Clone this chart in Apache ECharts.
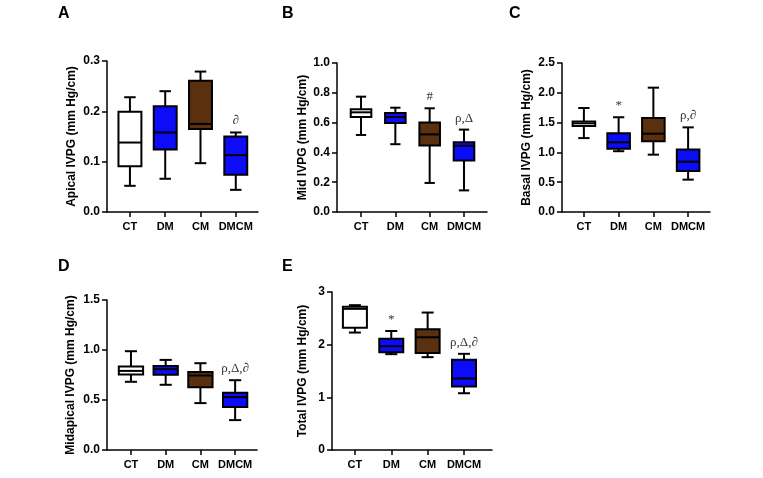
<!DOCTYPE html>
<html>
<head>
<meta charset="utf-8">
<script src="https://cdn.jsdelivr.net/npm/echarts@6/dist/echarts.min.js"></script>
<style>
  html, body { margin: 0; padding: 0; background: #fff; }
  #chart { width: 763px; height: 478px; }
</style>
</head>
<body>
<div id="chart"></div>
<script>
const groups = ['CT', 'DM', 'CM', 'DMCM']
const groupColors = ['#ffffff', '#0c0cf8', '#5a300f', '#0c0cf8']

// [min, q1, median, q3, max] per group
const apical = [
  [0.052, 0.091, 0.138, 0.199, 0.228],
  [0.066, 0.124, 0.158, 0.210, 0.240],
  [0.097, 0.165, 0.175, 0.261, 0.279],
  [0.044, 0.074, 0.113, 0.150, 0.158]
]
const mid = [
  [0.517, 0.638, 0.669, 0.689, 0.774],
  [0.455, 0.597, 0.638, 0.664, 0.700],
  [0.195, 0.447, 0.521, 0.600, 0.696],
  [0.145, 0.345, 0.445, 0.468, 0.553]
]
const basal = [
  [1.24, 1.443, 1.488, 1.52, 1.745],
  [1.02, 1.06, 1.17, 1.32, 1.59],
  [0.962, 1.186, 1.314, 1.577, 2.086],
  [0.543, 0.688, 0.845, 1.05, 1.42]
]
const midapical = [
  [0.682, 0.755, 0.791, 0.835, 0.988],
  [0.652, 0.752, 0.808, 0.841, 0.901],
  [0.469, 0.628, 0.745, 0.781, 0.868],
  [0.299, 0.429, 0.529, 0.572, 0.698]
]
const total = [
  [2.23, 2.32, 2.68, 2.72, 2.75],
  [1.82, 1.855, 1.97, 2.11, 2.26],
  [1.763, 1.84, 2.14, 2.295, 2.61],
  [1.078, 1.205, 1.357, 1.712, 1.826]
]

// significance marks above each box
const apicalMarks = ['', '', '', '∂']
const midMarks = ['', '', '#', 'ρ,Δ']
const basalMarks = ['', '*', '', 'ρ,∂']
const midapicalMarks = ['', '', '', 'ρ,Δ,∂']
const totalMarks = ['', '*', '', 'ρ,Δ,∂']

// y axis ticks
const apicalTicks = { max: 0.3, interval: 0.1, digits: 1 }
const midTicks = { max: 1.0, interval: 0.2, digits: 1 }
const basalTicks = { max: 2.5, interval: 0.5, digits: 1 }
const midapicalTicks = { max: 1.5, interval: 0.5, digits: 1 }
const totalTicks = { max: 3, interval: 1, digits: 0 }

const panels = [
  { letter: 'A', name: 'Apical IVPG (mm Hg/cm)', stats: apical, marks: apicalMarks, ticks: apicalTicks,
    grid: { left: 107, top: 61, width: 151, height: 151 }, xmin: -0.65, xmax: 3.63, box: 0.65, gap: 29, lx: 64, ly: 15 },
  { letter: 'B', name: 'Mid IVPG (mm Hg/cm)', stats: mid, marks: midMarks, ticks: midTicks,
    grid: { left: 337, top: 63, width: 150, height: 149 }, xmin: -0.70, xmax: 3.67, box: 0.6, gap: 28, lx: 288, ly: 15 },
  { letter: 'C', name: 'Basal IVPG (mm Hg/cm)', stats: basal, marks: basalMarks, ticks: basalTicks,
    grid: { left: 562, top: 63, width: 148, height: 149 }, xmin: -0.63, xmax: 3.63, box: 0.65, gap: 29, lx: 515, ly: 15 },
  { letter: 'D', name: 'Midapical IVPG (mm Hg/cm)', stats: midapical, marks: midapicalMarks, ticks: midapicalTicks,
    grid: { left: 107, top: 300, width: 150, height: 150 }, xmin: -0.69, xmax: 3.63, box: 0.7, gap: 30, lx: 64, ly: 268 },
  { letter: 'E', name: 'Total IVPG (mm Hg/cm)', stats: total, marks: totalMarks, ticks: totalTicks,
    grid: { left: 332, top: 292, width: 160, height: 158 }, xmin: -0.63, xmax: 3.77, box: 0.66, gap: 23, lx: 288, ly: 268 }
]

const axisLineStyle = { color: '#000', width: 1.5 }
const boldText = { color: '#000', fontWeight: 'bold', fontFamily: 'Liberation Sans, Arial, sans-serif' }

function makeRender(marks, boxFrac) {
  return function(params, api) {
    const i = api.value(0)
    const lo = api.coord([i, api.value(1)])
    const q1 = api.coord([i, api.value(2)])
    const md = api.coord([i, api.value(3)])
    const q3 = api.coord([i, api.value(4)])
    const hi = api.coord([i, api.value(5)])
    const hw = api.size([1, 0])[0] * boxFrac / 2
    const cw = hw * 0.5
    const cx = lo[0]
    const ln = { stroke: '#000', lineWidth: 2 }
    const children = [
      { type: 'line', shape: { x1: cx, y1: hi[1], x2: cx, y2: q3[1] }, style: ln },
      { type: 'line', shape: { x1: cx, y1: q1[1], x2: cx, y2: lo[1] }, style: ln },
      { type: 'line', shape: { x1: cx - cw, y1: hi[1], x2: cx + cw, y2: hi[1] }, style: ln },
      { type: 'line', shape: { x1: cx - cw, y1: lo[1], x2: cx + cw, y2: lo[1] }, style: ln },
      { type: 'rect', shape: { x: cx - hw, y: q3[1], width: hw * 2, height: q1[1] - q3[1] },
        style: { fill: groupColors[i], stroke: '#000', lineWidth: 2 } },
      { type: 'line', shape: { x1: cx - hw, y1: md[1], x2: cx + hw, y2: md[1] }, style: ln }
    ]
    if (marks[params.dataIndex]) {
      children.push({
        type: 'text',
        style: {
          x: cx, y: hi[1] - 5, text: marks[params.dataIndex],
          textAlign: 'center', textVerticalAlign: 'bottom',
          fill: '#333', font: '13px "Liberation Serif", "DejaVu Serif", serif'
        }
      })
    }
    return { type: 'group', children: children }
  }
}

const option = {
  animation: false,
  backgroundColor: '#fff',
  grid: [],
  xAxis: [],
  yAxis: [],
  series: [],
  graphic: []
}

panels.forEach(function(p, k) {
  option.grid.push(p.grid)
  option.xAxis.push({
    gridIndex: k,
    type: 'value',
    min: p.xmin,
    max: p.xmax,
    splitLine: { show: false },
    axisLine: { show: true, onZero: false, lineStyle: axisLineStyle },
    axisTick: { show: true, customValues: [0, 1, 2, 3], length: 5, lineStyle: axisLineStyle },
    axisLabel: {
      customValues: [0, 1, 2, 3],
      formatter: function(v) { return groups[Math.round(v)] },
      fontSize: 11, margin: 9, ...boldText
    }
  })
  option.yAxis.push({
    gridIndex: k,
    type: 'value',
    min: 0,
    max: p.ticks.max,
    interval: p.ticks.interval,
    splitLine: { show: false },
    axisLine: { show: true, onZero: false, lineStyle: axisLineStyle },
    axisTick: { show: true, length: 5, lineStyle: axisLineStyle },
    axisLabel: {
      formatter: function(v) { return v.toFixed(p.ticks.digits) },
      fontSize: 12, margin: 7, ...boldText
    },
    name: p.name,
    nameLocation: 'middle',
    nameGap: p.gap,
    nameTextStyle: { fontSize: 12, ...boldText }
  })
  option.series.push({
    type: 'custom',
    xAxisIndex: k,
    yAxisIndex: k,
    renderItem: makeRender(p.marks, p.box),
    data: p.stats.map(function(s, i) { return [i].concat(s) })
  })
  option.graphic.push({
    type: 'text',
    left: p.lx - 6,
    top: p.ly - 9,
    style: { text: p.letter, font: 'bold 16px "Liberation Sans", Arial, sans-serif', fill: '#000' }
  })
})

const myChart = echarts.init(document.getElementById('chart'))
myChart.setOption(option)
</script>
</body>
</html>
